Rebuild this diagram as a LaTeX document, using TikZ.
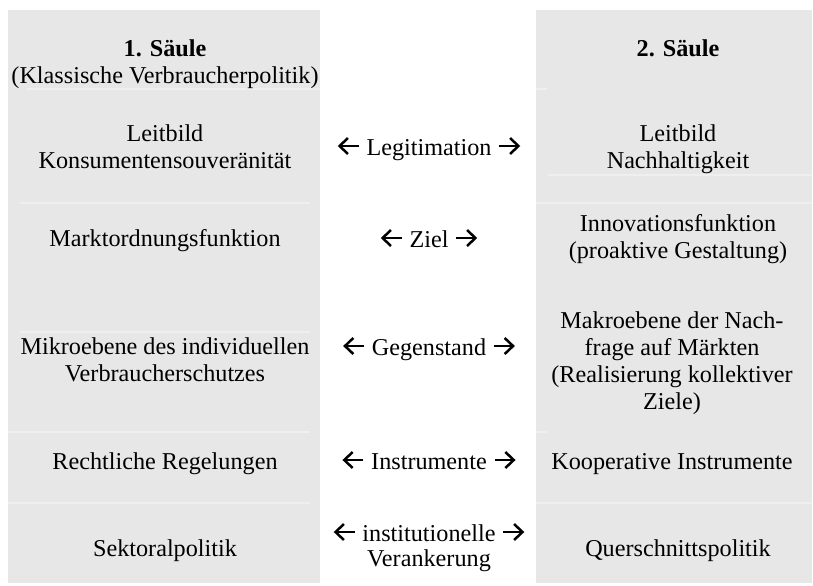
\documentclass[tikz,border=0pt]{standalone}
\usepackage{fontspec}
\setmainfont{Liberation Serif}
\usetikzlibrary{arrows.meta}

\definecolor{saeulegrau}{HTML}{E7E7E7}
\definecolor{fugenweiss}{HTML}{EFEFEF}

\tikzset{every picture/.style={line width=0.75pt}}
\tikzset{
  zelle/.style={anchor=base, inner sep=0pt, align=center,
    font=\fontsize{12.1}{13.4}\selectfont},
  fuge/.style={draw=fugenweiss, line width=0.6pt},
  pfeil/.style={line width=1.25pt, -{Straight Barb[length=4.2pt,width=8pt]}},
}

\begin{document}
\begin{tikzpicture}[x=0.5pt,y=0.5pt,yscale=-1,xscale=1]
\useasboundingbox (0,0) rectangle (813,585);

%Shape: Rectangle [id:saeule1]
\fill [saeulegrau] (8,10) rectangle (320,583);
%Shape: Rectangle [id:saeule2]
\fill [saeulegrau] (536,10) rectangle (812,583);

%Straight Lines: cell borders
\draw [fuge] (27,89) -- (320,89);
\draw [fuge] (20,203) -- (310,203);
\draw [fuge] (20,332) -- (310,332);
\draw [fuge] (8,432) -- (310,432);
\draw [fuge] (8,503) -- (310,503);
\draw [fuge] (536,89) -- (547,89);
\draw [fuge] (548,175) -- (812,175);
\draw [fuge] (536,203) -- (812,203);
\draw [fuge] (536,432) -- (547,432);
\draw [fuge] (536,503) -- (812,503);

% Text Node (base = last line)
\node (kopfl) at (165,83) [zelle] {\textbf{1. Säule}\\(Klassische Verbraucherpolitik)};
% Text Node
\node (leitl) at (165,168) [zelle] {Leitbild\\Konsumentensouveränität};
% Text Node
\node (ziell) at (165,246) [zelle] {Marktordnungsfunktion};
% Text Node
\node (gegl) at (165,381) [zelle] {Mikroebene des individuellen\\Verbraucherschutzes};
% Text Node
\node (instl) at (165,469) [zelle] {Rechtliche Regelungen};
% Text Node
\node (verl) at (165,556) [zelle] {Sektoralpolitik};

% Text Node
\node (kopfr) at (678,56) [zelle] {\textbf{2. Säule}};
% Text Node
\node (leitr) at (678,168) [zelle] {Leitbild\\Nachhaltigkeit};
% Text Node
\node (zielr) at (678,258) [zelle] {Innovationsfunktion\\(proaktive Gestaltung)};
% Text Node
\node (gegr) at (672,409) [zelle] {Makroebene der Nach-\\frage auf Märkten\\(Realisierung kollektiver\\Ziele)};
% Text Node
\node (instr) at (672,469) [zelle] {Kooperative Instrumente};
% Text Node
\node (verr) at (678,556) [zelle] {Querschnittspolitik};

% Text Node
\node (legit) at (429,155) [zelle] {Legitimation};
% Text Node
\node (ziel) at (429,247) [zelle] {Ziel};
% Text Node
\node (gegen) at (429,355) [zelle] {Gegenstand};
% Text Node
\node (instru) at (429,469) [zelle] {Instrumente};
% Text Node
\node (institu) at (429,541) [zelle] {institutionelle};
% Text Node
\node (veranker) at (429,566) [zelle] {Verankerung};

%Arrows
\draw [pfeil] ([xshift=-3.5pt,yshift=-4.5pt]legit.base west) -- ++(-10.5pt,0);
\draw [pfeil] ([xshift=3.5pt,yshift=-4.5pt]legit.base east) -- ++(10.5pt,0);
\draw [pfeil] ([xshift=-3.5pt,yshift=-4.5pt]ziel.base west) -- ++(-10.5pt,0);
\draw [pfeil] ([xshift=3.5pt,yshift=-4.5pt]ziel.base east) -- ++(10.5pt,0);
\draw [pfeil] ([xshift=-3.5pt,yshift=-4.5pt]gegen.base west) -- ++(-10.5pt,0);
\draw [pfeil] ([xshift=3.5pt,yshift=-4.5pt]gegen.base east) -- ++(10.5pt,0);
\draw [pfeil] ([xshift=-3.5pt,yshift=-4.5pt]instru.base west) -- ++(-10.5pt,0);
\draw [pfeil] ([xshift=3.5pt,yshift=-4.5pt]instru.base east) -- ++(10.5pt,0);
\draw [pfeil] ([xshift=-3.5pt,yshift=-4.5pt]institu.base west) -- ++(-10.5pt,0);
\draw [pfeil] ([xshift=3.5pt,yshift=-4.5pt]institu.base east) -- ++(10.5pt,0);

\end{tikzpicture}
\end{document}
